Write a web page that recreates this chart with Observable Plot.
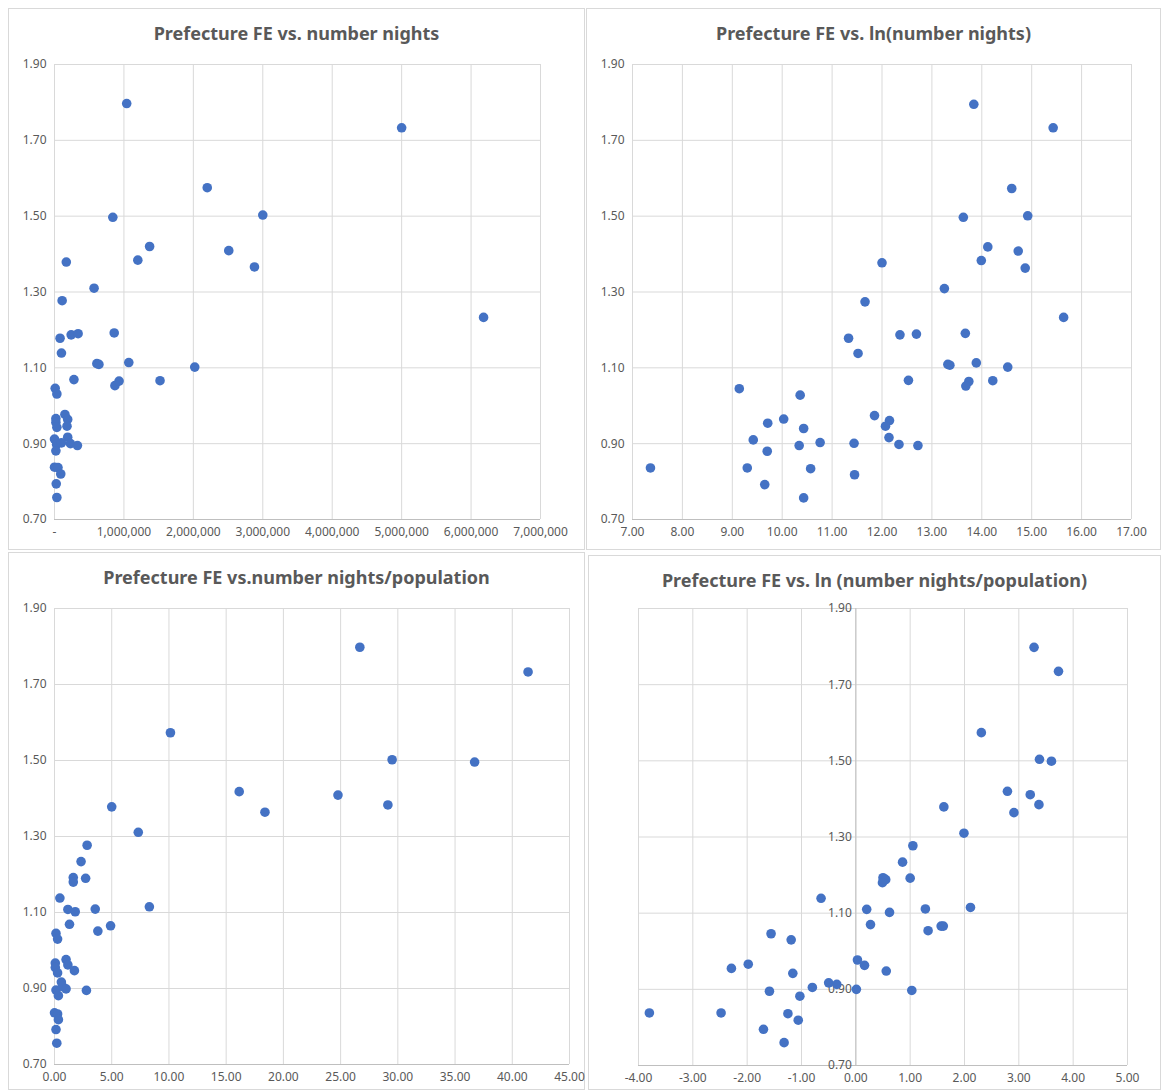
<!DOCTYPE html>
<html>
<head>
<meta charset="utf-8">
<script src="https://cdn.jsdelivr.net/npm/d3@7"></script>
<script src="https://cdn.jsdelivr.net/npm/@observablehq/plot@0.6"></script>
<style>
  body { margin: 0; background: #fff; font-family: "Noto Sans", sans-serif; }
  .panel { position: absolute; border: 1px solid #d9d9d9; background: #fff; box-sizing: border-box; }
  .title { position: absolute; left: 0; right: 0; top: 12px; text-align: center; font-weight: bold; font-size: 18px; color: #595959; }
  .panel svg { position: absolute; left: 0; top: 0; }
</style>
</head>
<body>
<script>
// Prefecture fixed effects (y) against number of nights (x)
const yTicks = [0.7, 0.9, 1.1, 1.3, 1.5, 1.7, 1.9];

const nightsX = [1040000, 5000000, 2200000, 840000, 3000000, 1370000, 2510000, 1200000, 2880000, 170000,
  570000, 110000, 6180000, 80000, 240000, 340000, 860000, 100000, 610000, 640000, 1070000, 2020000,
  280000, 870000, 930000, 1520000, 10000, 34000, 20000, 20000, 34000, 150000, 190000, 180000, 190000,
  0, 30000, 100000, 230000, 330000, 20000, 0, 50000, 90000, 25000, 34000];
const nightsY = [1.797, 1.733, 1.575, 1.497, 1.503, 1.420, 1.409, 1.384, 1.366, 1.379,
  1.310, 1.277, 1.233, 1.178, 1.187, 1.190, 1.192, 1.139, 1.111, 1.109, 1.114, 1.102,
  1.069, 1.053, 1.065, 1.066, 1.046, 1.031, 0.966, 0.956, 0.943, 0.977, 0.964, 0.946, 0.917,
  0.912, 0.898, 0.902, 0.900, 0.895, 0.881, 0.838, 0.837, 0.820, 0.794, 0.758];
const nightsTicks = [0, 1000000, 2000000, 3000000, 4000000, 5000000, 6000000, 7000000];

const lnNightsX = [13.84, 15.43, 14.60, 13.63, 14.92, 14.12, 14.73, 13.99, 14.87, 12.00, 13.25, 11.66,
  15.64, 11.33, 12.36, 12.69, 13.67, 11.52, 13.32, 13.36, 13.89, 14.52, 12.53, 13.74, 13.68, 14.22,
  9.14, 10.36, 10.03, 9.71, 10.43, 11.85, 12.15, 12.07, 12.14, 9.42, 10.34, 10.76, 11.44, 12.34,
  12.72, 9.70, 7.36, 9.30, 10.57, 11.45, 9.65, 10.43];
const lnNightsY = [1.795, 1.733, 1.573, 1.497, 1.501, 1.419, 1.408, 1.383, 1.363, 1.377, 1.309, 1.274,
  1.233, 1.178, 1.187, 1.189, 1.191, 1.138, 1.109, 1.107, 1.113, 1.102, 1.067, 1.064, 1.052, 1.066,
  1.045, 1.028, 0.965, 0.954, 0.940, 0.974, 0.961, 0.946, 0.916, 0.910, 0.895, 0.903, 0.901, 0.898,
  0.895, 0.880, 0.836, 0.836, 0.834, 0.818, 0.792, 0.757];
const lnNightsTicks = [7, 8, 9, 10, 11, 12, 13, 14, 15, 16, 17];

const perPopX = [26.68, 41.38, 10.13, 29.50, 36.71, 16.14, 24.77, 18.39, 29.13, 5.00, 7.32, 2.85, 2.32,
  1.64, 1.64, 2.72, 0.47, 1.17, 1.81, 3.56, 8.29, 1.31, 4.90, 3.79, 0.13, 0.27, 0.07, 0.07, 0.27,
  1.01, 1.17, 1.74, 0.60, 0.13, 0.70, 1.01, 2.79, 0.34, 0.0, 0.27, 0.34, 0.13, 0.20];
const perPopY = [1.798, 1.733, 1.573, 1.502, 1.496, 1.418, 1.409, 1.364, 1.383, 1.378, 1.311, 1.277, 1.234,
  1.192, 1.180, 1.190, 1.138, 1.108, 1.102, 1.109, 1.115, 1.069, 1.065, 1.051, 1.045, 1.030, 0.967, 0.955,
  0.941, 0.976, 0.962, 0.947, 0.917, 0.896, 0.905, 0.899, 0.895, 0.881, 0.836, 0.833, 0.818, 0.792, 0.756];
const perPopTicks = [0, 5, 10, 15, 20, 25, 30, 35, 40, 45];

const lnPerPopX = [3.28, 3.73, 2.31, 3.38, 3.60, 2.79, 3.21, 3.37, 2.91, 1.62, 1.99, 1.05, 0.86, 0.50,
  0.55, 0.49, 1.00, -0.64, 0.20, 0.62, 1.28, 2.11, 0.27, 1.57, 1.61, 1.33, -1.56, -1.19, -2.29, -1.98,
  -1.16, 0.03, 0.16, 0.56, -0.50, -0.35, -0.80, 0.01, 1.03, -1.59, -1.03, -3.80, -2.48, -1.25, -1.06,
  -1.70, -1.32];
const lnPerPopY = [1.798, 1.735, 1.574, 1.504, 1.499, 1.420, 1.411, 1.385, 1.364, 1.379, 1.310, 1.277,
  1.234, 1.193, 1.188, 1.180, 1.192, 1.139, 1.110, 1.102, 1.111, 1.115, 1.070, 1.066, 1.066, 1.054,
  1.046, 1.030, 0.955, 0.966, 0.942, 0.977, 0.963, 0.948, 0.917, 0.913, 0.905, 0.900, 0.897, 0.895,
  0.882, 0.838, 0.838, 0.836, 0.819, 0.795, 0.760];
const lnPerPopTicks = [-4, -3, -2, -1, 0, 1, 2, 3, 4, 5];

const grid = "#d9d9d9";
const axisLine = "#bfbfbf";
const textColor = "#595959";
const dotColor = "#4472C4";
const fmt2 = d => d.toFixed(2);

function panel(cfg) {
  const div = document.createElement("div");
  div.className = "panel";
  Object.assign(div.style, {left: cfg.left + "px", top: cfg.top + "px", width: cfg.w + "px", height: cfg.h + "px"});
  const rows = cfg.xs.map((x, i) => ({x, y: cfg.ys[i]}));
  const xDomain = [cfg.xTicks[0], cfg.xTicks[cfg.xTicks.length - 1]];

  const marks = [
    Plot.gridX(cfg.xTicks, {stroke: grid, strokeOpacity: 1}),
    Plot.gridY(yTicks, {stroke: grid, strokeOpacity: 1}),
    Plot.ruleY([0.7], {stroke: axisLine}),
    Plot.axisX(cfg.xTicks, {tickSize: 0, tickPadding: 8, tickFormat: cfg.xFormat || fmt2, fill: textColor, fontSize: 12, label: null})
  ];
  if (cfg.yAtZero) {
    marks.push(Plot.ruleX([0], {stroke: axisLine}));
    marks.push(Plot.text(yTicks, {x: 0, y: d => d, text: fmt2, textAnchor: "end", dx: -4, fill: textColor, fontSize: 12}));
  } else {
    marks.push(Plot.axisY(yTicks, {tickSize: 0, tickPadding: 8, tickFormat: fmt2, fill: textColor, fontSize: 12, label: null}));
  }
  marks.push(Plot.dot(rows, {x: "x", y: "y", r: 4.8, fill: dotColor}));

  const chart = Plot.plot({
    width: cfg.w - 2,
    height: cfg.h - 2,
    marginLeft: cfg.m[0], marginRight: cfg.m[1], marginTop: cfg.m[2], marginBottom: cfg.m[3],
    style: {fontFamily: "Noto Sans, sans-serif", fontSize: "12px", background: "transparent", overflow: "visible"},
    x: {domain: xDomain},
    y: {domain: [0.7, 1.9], axis: cfg.yAtZero ? null : undefined},
    marks
  });
  div.appendChild(chart);
  const t = document.createElement("div");
  t.className = "title";
  t.textContent = cfg.title;
  div.appendChild(t);
  document.body.appendChild(div);
}

panel({title: "Prefecture FE vs. number nights", left: 8, top: 8, w: 577, h: 542,
  xs: nightsX, ys: nightsY, xTicks: nightsTicks, m: [45, 44, 55, 30],
  xFormat: d => d === 0 ? "-" : d3.format(",")(d)});
panel({title: "Prefecture FE vs. ln(number nights)", left: 586, top: 8, w: 575, h: 542,
  xs: lnNightsX, ys: lnNightsY, xTicks: lnNightsTicks, m: [45, 29, 55, 30]});
panel({title: "Prefecture FE vs.number nights/population", left: 8, top: 552, w: 577, h: 538,
  xs: perPopX, ys: perPopY, xTicks: perPopTicks, m: [45, 15, 55, 25]});
panel({title: "Prefecture FE vs. ln (number nights/population)", left: 588, top: 555, w: 573, h: 535,
  xs: lnPerPopX, ys: lnPerPopY, xTicks: lnPerPopTicks, m: [49, 33, 52, 24], yAtZero: true});
</script>
</body>
</html>
